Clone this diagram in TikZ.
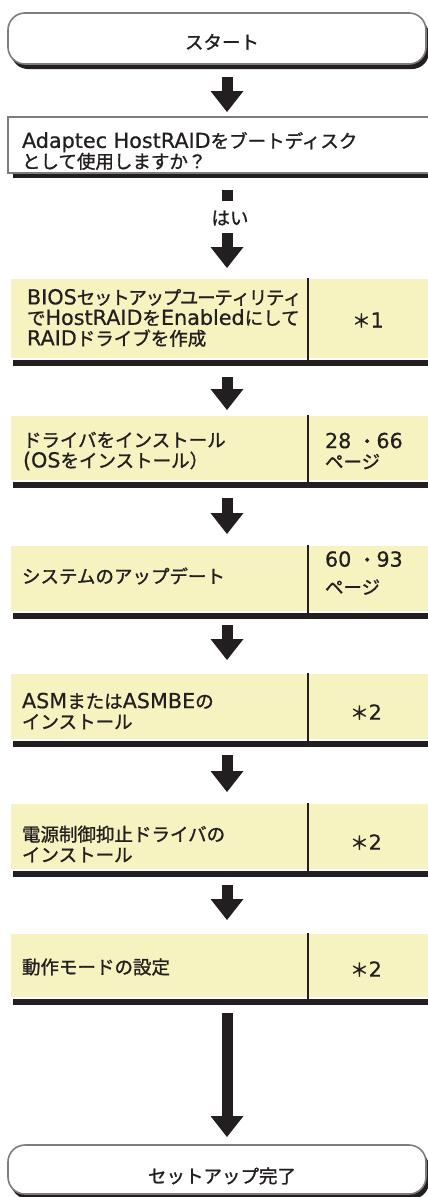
\documentclass[tikz,border=0pt]{standalone}
\usepackage{fontspec}
\setmainfont{Noto Sans CJK JP}[FakeBold=1.2]
\newfontfamily\latinfont{DejaVu Sans}[Scale=1.12, FakeBold=0.6]
\newcommand\lat[1]{{\latinfont #1}}
\newcommand\tk{\kern-1.3pt}
\usetikzlibrary{arrows.meta,shadows}
\definecolor{cellfill}{RGB}{246,243,193}
\definecolor{ink}{RGB}{35,31,32}
\definecolor{rim}{RGB}{125,125,125}
\begin{document}
\begin{tikzpicture}[x=1pt,y=-1pt,
  every node/.style={inner sep=0pt, outer sep=0pt},
  txt/.style={font=\fontsize{18.5}{20.5}\selectfont, text=ink, align=left},
  terminal/.style={draw=rim, line width=1.6pt, fill=white, rounded corners=17pt,
    general shadow={fill=ink, shadow xshift=3pt, shadow yshift=-5pt}},
  question/.style={draw=rim, line width=1.6pt, fill=white,
    general shadow={fill=ink, shadow xshift=5pt, shadow yshift=-5pt}},
  cell/.style={fill=cellfill, draw=white, line width=2.5pt,
    general shadow={fill=ink, shadow xshift=3pt, shadow yshift=-7pt}},
  divider/.style={draw=ink, line width=2.5pt},
  yesmark/.style={fill=ink, minimum size=11pt},
  flow/.style={draw=ink, line width=11pt, -{Triangle[width=33pt,length=21pt,line width=0pt]}},
]
\useasboundingbox (0,0) rectangle (428,1197);
\clip (0,0) rectangle (428,1197);
\fill[white] (0,0) rectangle (428,1197);
\coordinate (axis) at (227,0);

% start
\node[terminal, anchor=north west, minimum width=418pt, minimum height=51pt] (start) at (8,13) {};
\node[txt] (tstart) at (222,42) {スタート};

% question
\node[question, anchor=north west, minimum width=440pt, minimum height=56pt] (q) at (8,117) {};
\node[txt, anchor=west] (tq) at (22,151) {\lat{Adaptec HostRAID}をブートディスク\\として使用しますか？};
\node[yesmark] (sq) at (227,195) {};
\node[txt] (yes) at (230,218) {はい};

% step 1
\node[cell, anchor=north west, minimum width=298pt, minimum height=81pt] (b1l) at (10,278) {};
\node[cell, anchor=north west, minimum width=140pt, minimum height=81pt] (b1r) at (308,278) {};
\draw[divider] (b1r.north west) -- ([yshift=-7pt]b1r.south west);
\node[txt, anchor=west] (t1l) at (27,318) {\lat{BIOS}セ\tk ッ\tk ト\tk ア\tk ッ\tk プ\tk ユ\tk ー\tk テ\tk ィ\tk リ\tk テ\tk ィ\\で\lat{HostRAID}を\lat{Enabled}にして\\\lat{RAID}ドライブを作成};
\node[txt] (t1r) at (368,320) {＊\lat{1}};

% step 2
\node[cell, anchor=north west, minimum width=298pt, minimum height=66pt] (b2l) at (10,415) {};
\node[cell, anchor=north west, minimum width=140pt, minimum height=66pt] (b2r) at (308,415) {};
\draw[divider] (b2r.north west) -- ([yshift=-7pt]b2r.south west);
\node[txt, anchor=west] (t2l) at (23,451) {ドライバをインストール\\\lat{(OS}をインストール）};
\node[txt, anchor=west] (t2r) at (325,451) {\lat{28 }・\lat{66}\\ページ};

% step 3
\node[cell, anchor=north west, minimum width=298pt, minimum height=67pt] (b3l) at (10,545) {};
\node[cell, anchor=north west, minimum width=140pt, minimum height=67pt] (b3r) at (308,545) {};
\draw[divider] (b3r.north west) -- ([yshift=-7pt]b3r.south west);
\node[txt, anchor=west] (t3l) at (22,576) {システムのアップデート};
\node[txt, anchor=west] (t3r) at (325,573) {\lat{60 }・\lat{93}\\[7pt]ページ};

% step 4
\node[cell, anchor=north west, minimum width=298pt, minimum height=67pt] (b4l) at (10,673) {};
\node[cell, anchor=north west, minimum width=140pt, minimum height=67pt] (b4r) at (308,673) {};
\draw[divider] (b4r.north west) -- ([yshift=-7pt]b4r.south west);
\node[txt, anchor=west] (t4l) at (22,711) {\lat{ASM}または\lat{ASMBE}の\\インストール};
\node[txt] (t4r) at (366,712) {＊\lat{2}};

% step 5
\node[cell, anchor=north west, minimum width=298pt, minimum height=67pt] (b5l) at (10,803) {};
\node[cell, anchor=north west, minimum width=140pt, minimum height=67pt] (b5r) at (308,803) {};
\draw[divider] (b5r.north west) -- ([yshift=-7pt]b5r.south west);
\node[txt, anchor=west] (t5l) at (22,844) {電源制御抑止ドライバの\\インストール};
\node[txt] (t5r) at (366,842) {＊\lat{2}};

% step 6
\node[cell, anchor=north west, minimum width=298pt, minimum height=65pt] (b6l) at (10,933) {};
\node[cell, anchor=north west, minimum width=140pt, minimum height=65pt] (b6r) at (308,933) {};
\draw[divider] (b6r.north west) -- ([yshift=-7pt]b6r.south west);
\node[txt, anchor=west] (t6l) at (22,967) {動作モードの設定};
\node[txt] (t6r) at (366,969) {＊\lat{2}};

% end
\node[terminal, anchor=north west, minimum width=418pt, minimum height=49pt] (end) at (8,1145) {};
\node[txt] (tend) at (222,1176) {セットアップ完了};

% connectors
\draw[flow, shorten <=13pt, shorten >=5pt] (start.south -| axis) -- (q.north -| axis);
\draw[flow, shorten <=8pt, shorten >=10pt] (yes.south -| axis) -- (b1l.north -| axis);
\draw[flow, shorten <=18pt, shorten >=5pt] (b1l.south -| axis) -- (b2l.north -| axis);
\draw[flow, shorten <=17pt, shorten >=11pt] (b2l.south -| axis) -- (b3l.north -| axis);
\draw[flow, shorten <=13pt, shorten >=13pt] (b3l.south -| axis) -- (b4l.north -| axis);
\draw[flow, shorten <=15pt, shorten >=11pt] (b4l.south -| axis) -- (b5l.north -| axis);
\draw[flow, shorten <=15pt, shorten >=13pt] (b5l.south -| axis) -- (b6l.north -| axis);
\draw[flow, shorten <=15pt, shorten >=8pt] (b6l.south -| axis) -- (end.north -| axis);
\end{tikzpicture}
\end{document}
